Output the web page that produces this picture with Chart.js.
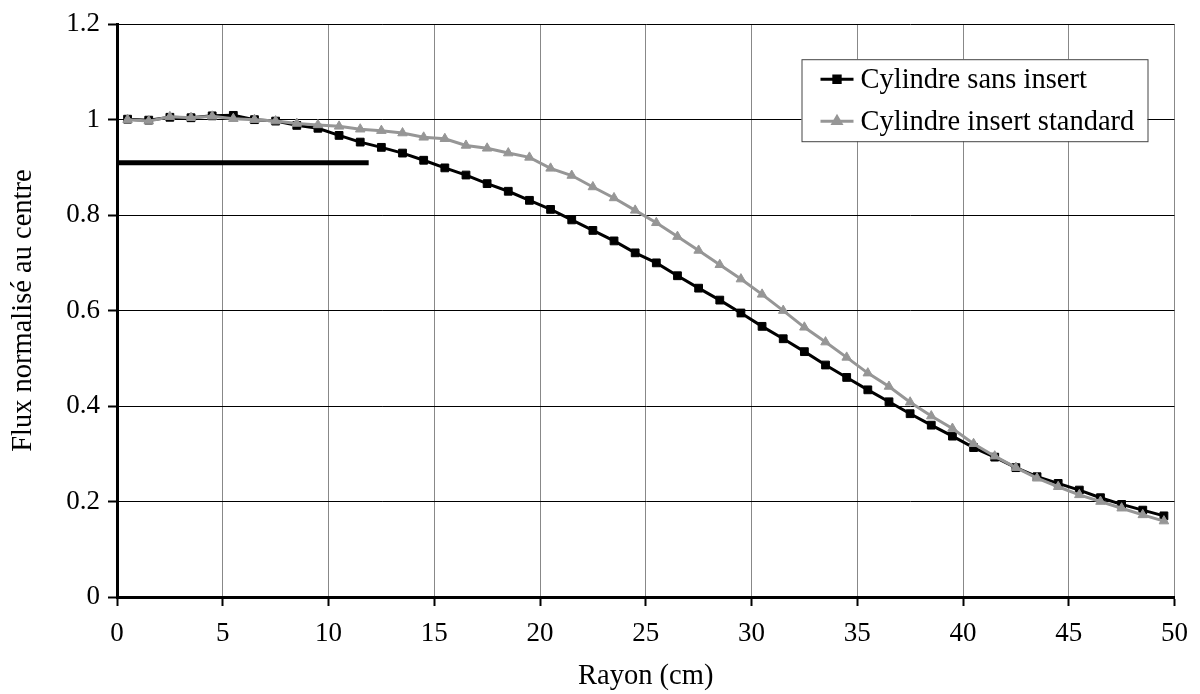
<!DOCTYPE html>
<html>
<head>
<meta charset="utf-8">
<script src="https://cdn.jsdelivr.net/npm/chart.js@4/dist/chart.umd.min.js"></script>
<style>
  body { margin: 0; background: #fff; }
</style>
</head>
<body>
<canvas id="flux" width="1200" height="694"></canvas>
<script>
let rayon = [0.5, 1.5, 2.5, 3.5, 4.5, 5.5, 6.5, 7.5, 8.5, 9.5,
    10.5, 11.5, 12.5, 13.5, 14.5, 15.5, 16.5, 17.5, 18.5, 19.5,
    20.5, 21.5, 22.5, 23.5, 24.5, 25.5, 26.5, 27.5, 28.5, 29.5,
    30.5, 31.5, 32.5, 33.5, 34.5, 35.5, 36.5, 37.5, 38.5, 39.5,
    40.5, 41.5, 42.5, 43.5, 44.5, 45.5, 46.5, 47.5, 48.5, 49.5];

let sansInsert = [1.001, 0.999, 1.005, 1.004, 1.008, 1.009, 1.0, 0.997, 0.988, 0.982,
    0.967, 0.953, 0.942, 0.930, 0.915, 0.899, 0.884, 0.866, 0.850, 0.831,
    0.812, 0.790, 0.768, 0.746, 0.721, 0.700, 0.673, 0.647, 0.622, 0.595,
    0.567, 0.541, 0.514, 0.486, 0.460, 0.434, 0.409, 0.384, 0.360, 0.337,
    0.313, 0.293, 0.271, 0.252, 0.238, 0.224, 0.208, 0.194, 0.182, 0.170];

let insertStandard = [1.0, 0.997, 1.006, 1.004, 1.007, 1.002, 1.0, 0.997, 0.992, 0.989,
    0.986, 0.980, 0.977, 0.972, 0.963, 0.960, 0.946, 0.940, 0.930, 0.921,
    0.898, 0.883, 0.859, 0.836, 0.810, 0.784, 0.755, 0.726, 0.696, 0.666,
    0.634, 0.600, 0.565, 0.534, 0.502, 0.469, 0.441, 0.408, 0.379, 0.353,
    0.321, 0.295, 0.271, 0.249, 0.231, 0.214, 0.200, 0.186, 0.172, 0.159];

// the stray thick line under the curves
let traitX = [0, 11.9];
let traitY = [0.91, 0.91];

let xTicks = [0, 5, 10, 15, 20, 25, 30, 35, 40, 45, 50];
let yTicks = [0, 0.2, 0.4, 0.6, 0.8, 1, 1.2];

let noir = '#000000';
let gris = '#969696';
let police = '"Liberation Serif", "Times New Roman", serif';

function pts(xs, ys) {
    let out = [];
    for (let i = 0; i < xs.length; i++) out.push({x: xs[i], y: ys[i]});
    return out;
}

let series = [
    {
        label: 'Cylindre sans insert',
        data: pts(rayon, sansInsert),
        borderColor: noir,
        backgroundColor: noir,
        borderWidth: 3,
        pointStyle: 'rect',
        pointRadius: 5.5,
        pointBorderWidth: 1,
        order: 1
    },
    {
        label: 'Cylindre insert standard',
        data: pts(rayon, insertStandard),
        borderColor: gris,
        backgroundColor: gris,
        borderWidth: 3,
        pointStyle: 'triangle',
        pointRadius: 5.5,
        pointBorderWidth: 1,
        order: 0
    },
    {
        label: 'trait',
        data: pts(traitX, traitY),
        borderColor: noir,
        borderWidth: 5,
        pointRadius: 0,
        order: 2
    }
];

// legend box drawn inside the plot, like the original
let legendeBoite = {
    id: 'legendeBoite',
    afterDraw(chart) {
        let ctx = chart.ctx;
        let a = chart.chartArea;
        let bx = a.right - 373, by = a.top + 35, bw = 346, bh = 82;
        ctx.save();
        ctx.fillStyle = '#fff';
        ctx.fillRect(bx, by, bw, bh);
        ctx.strokeStyle = '#444';
        ctx.lineWidth = 1;
        ctx.strokeRect(bx + 0.5, by + 0.5, bw, bh);
        let items = [series[0], series[1]];
        for (let i = 0; i < items.length; i++) {
            let d = items[i];
            let y = by + 20 + i * 42;
            ctx.strokeStyle = d.borderColor;
            ctx.lineWidth = 3;
            ctx.beginPath();
            ctx.moveTo(bx + 19, y);
            ctx.lineTo(bx + 52, y);
            ctx.stroke();
            ctx.fillStyle = d.backgroundColor;
            Chart.helpers.drawPoint(ctx, {pointStyle: d.pointStyle, radius: 4.5, borderWidth: 1}, bx + 35.5, y);
            ctx.fill();
            ctx.fillStyle = '#000';
            ctx.font = '28.5px ' + police;
            ctx.textBaseline = 'middle';
            ctx.textAlign = 'left';
            ctx.fillText(d.label, bx + 59, y + 1);
        }
        ctx.restore();
    }
};

var c = document.getElementById('flux').getContext('2d');
var graph = new Chart(c, {
    type: 'line',
    data: { datasets: series },
    options: {
        responsive: false,
        animation: false,
        layout: { padding: { top: 22, right: 24, left: 0, bottom: 0 } },
        plugins: {
            legend: { display: false },
            tooltip: { enabled: false }
        },
        scales: {
            x: {
                type: 'linear',
                min: 0,
                max: 50,
                afterFit: function (s) { s.height = 97; },
                afterBuildTicks: function (s) { s.ticks = xTicks.map(v => ({value: v})); },
                ticks: { color: '#000', font: { family: police, size: 27 }, padding: 12 },
                grid: { color: '#888', lineWidth: 1, tickColor: '#000', tickWidth: 2, tickLength: 9 },
                border: { color: '#000', width: 3 },
                title: { display: true, text: 'Rayon (cm)', color: '#000', font: { family: police, size: 28.5 }, padding: { top: 0, bottom: 0 } }
            },
            y: {
                min: 0,
                max: 1.2,
                afterFit: function (s) { s.width = 117; },
                afterBuildTicks: function (s) { s.ticks = yTicks.map(v => ({value: v})); },
                ticks: {
                    color: '#000',
                    font: { family: police, size: 27 },
                    padding: 8,
                    callback: function (v) { return String(Math.round(v * 10) / 10); }
                },
                grid: { color: '#000', lineWidth: 1, tickColor: '#000', tickWidth: 2, tickLength: 9 },
                border: { color: '#000', width: 3 },
                title: { display: true, text: 'Flux normalisé au centre', color: '#000', font: { family: police, size: 28.5 }, padding: { top: 6, bottom: 0 } }
            }
        }
    },
    plugins: [legendeBoite]
});
</script>
</body>
</html>
